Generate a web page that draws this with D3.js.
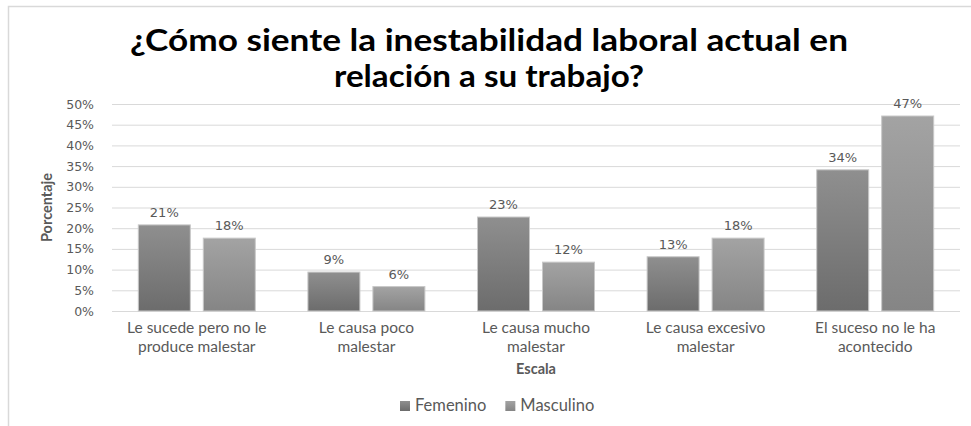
<!DOCTYPE html>
<html>
<head>
<meta charset="utf-8">
<script src="https://cdn.jsdelivr.net/npm/d3@7"></script>
<style>
  body { margin: 0; background: #fff; }
  svg { display: block; }
</style>
</head>
<body>
<svg id="chart"></svg>
<script>
// Data
var categories = [
  "Le sucede pero no le\nproduce malestar",
  "Le causa poco\nmalestar",
  "Le causa mucho\nmalestar",
  "Le causa excesivo\nmalestar",
  "El suceso no le ha\nacontecido"
];
var series = ["Femenino", "Masculino"];
var femenino = [20.8, 9.4, 22.7, 13.1, 34.1];
var masculino = [17.6, 5.9, 11.8, 17.6, 47.1];
var yTicks = [0, 5, 10, 15, 20, 25, 30, 35, 40, 45, 50];
var titleLines = ["¿Cómo siente la inestabilidad laboral actual en", "relación a su trabajo?"];

var W = 971, H = 426;
var plot = {left: 112, right: 960, top: 104, bottom: 311};

var svg = d3.select("#chart").attr("width", W).attr("height", H);

// gradients like the original bars
var defs = svg.append("defs");
var grads = {Femenino: ["#8f8f8f", "#6c6c6c"], Masculino: ["#a3a3a3", "#858585"]};
series.forEach(function(s) {
  var g = defs.append("linearGradient").attr("id", "g-" + s)
    .attr("x1", 0).attr("y1", 0).attr("x2", 0).attr("y2", 1);
  g.append("stop").attr("offset", "0%").attr("stop-color", grads[s][0]);
  g.append("stop").attr("offset", "100%").attr("stop-color", grads[s][1]);
});

// chart frame (only top and left edge visible in the crop)
svg.append("path")
  .attr("d", "M8.5,426 V6.5 H971")
  .attr("fill", "none")
  .attr("stroke", "#d9d9d9")
  .attr("stroke-width", 1.5);

// title, two lines stretched to the original widths
var titleWidths = [718, 310];
titleLines.forEach(function(line, i) {
  svg.append("text")
    .attr("x", 489)
    .attr("y", 51 + i * 36)
    .attr("text-anchor", "middle")
    .attr("font-family", "Lato, sans-serif")
    .attr("font-weight", "bold")
    .attr("font-size", 31)
    .attr("fill", "#000")
    .attr("textLength", titleWidths[i])
    .attr("lengthAdjust", "spacingAndGlyphs")
    .text(line);
});

var x0 = d3.scaleBand().domain(categories).range([plot.left, plot.right]);
var x1 = d3.scaleBand().domain(series).range([0, x0.bandwidth()])
  .paddingInner(0.2).paddingOuter(0.405);
var y = d3.scaleLinear().domain([0, 50]).range([plot.bottom, plot.top]);

// y axis with gridlines
svg.append("g")
  .attr("transform", "translate(" + plot.left + ",0)")
  .call(d3.axisLeft(y)
    .tickValues(yTicks)
    .tickFormat(d => d + "%")
    .tickSize(-(plot.right - plot.left))
    .tickPadding(18))
  .call(g => g.select(".domain").remove())
  .call(g => g.selectAll(".tick line").attr("stroke", "#d9d9d9"))
  .call(g => g.selectAll(".tick text")
    .attr("fill", "#595959")
    .attr("font-family", "DejaVu Sans, sans-serif")
    .attr("font-size", 12.5));

// bars
var rows = categories.map((c, i) => ({cat: c, values: [
  {s: "Femenino", v: femenino[i]},
  {s: "Masculino", v: masculino[i]}
]}));

var groups = svg.selectAll(".grp")
  .data(rows)
  .enter().append("g")
  .attr("class", "grp")
  .attr("transform", d => "translate(" + x0(d.cat) + ",0)");

groups.selectAll("rect")
  .data(d => d.values)
  .enter().append("rect")
  .attr("x", d => x1(d.s))
  .attr("y", d => y(d.v))
  .attr("width", x1.bandwidth())
  .attr("height", d => y(0) - y(d.v))
  .attr("fill", d => "url(#g-" + d.s + ")")
  .attr("stroke", "#c8c8c8")
  .attr("stroke-width", 1);

groups.selectAll(".lbl")
  .data(d => d.values)
  .enter().append("text")
  .attr("class", "lbl")
  .attr("x", d => x1(d.s) + x1.bandwidth() / 2)
  .attr("y", d => y(d.v) - 8)
  .attr("text-anchor", "middle")
  .attr("fill", "#595959")
  .attr("font-family", "DejaVu Sans, sans-serif")
  .attr("font-size", 13)
  .text(d => Math.round(d.v) + "%");

// category labels, one text per line
var xAxis = svg.append("g");
categories.forEach(function(c) {
  c.split("\n").forEach(function(line, i) {
    xAxis.append("text")
      .attr("x", x0(c) + x0.bandwidth() / 2)
      .attr("y", 333 + i * 18.5)
      .attr("text-anchor", "middle")
      .attr("fill", "#595959")
      .attr("font-family", "Lato, sans-serif")
      .attr("font-size", 15.5)
      .text(line);
  });
});

// axis titles
svg.append("text")
  .attr("x", (plot.left + plot.right) / 2)
  .attr("y", 374)
  .attr("text-anchor", "middle")
  .attr("fill", "#595959")
  .attr("font-family", "Lato, sans-serif")
  .attr("font-weight", "bold")
  .attr("font-size", 14.5)
  .text("Escala");

svg.append("text")
  .attr("transform", "translate(52," + ((plot.top + plot.bottom) / 2) + ") rotate(-90)")
  .attr("text-anchor", "middle")
  .attr("fill", "#595959")
  .attr("font-family", "Lato, sans-serif")
  .attr("font-weight", "bold")
  .attr("font-size", 14.5)
  .text("Porcentaje");

// legend
var legend = svg.append("g").attr("transform", "translate(400,411)");
var lx = 0;
series.forEach(function(s) {
  legend.append("rect")
    .attr("x", lx).attr("y", -10)
    .attr("width", 10).attr("height", 10)
    .attr("fill", "url(#g-" + s + ")");
  var t = legend.append("text")
    .attr("x", lx + 15).attr("y", 0)
    .attr("fill", "#595959")
    .attr("font-family", "Lato, sans-serif")
    .attr("font-size", 16.5)
    .text(s);
  lx += 15 + t.node().getComputedTextLength() + 19;
});
</script>
</body>
</html>
